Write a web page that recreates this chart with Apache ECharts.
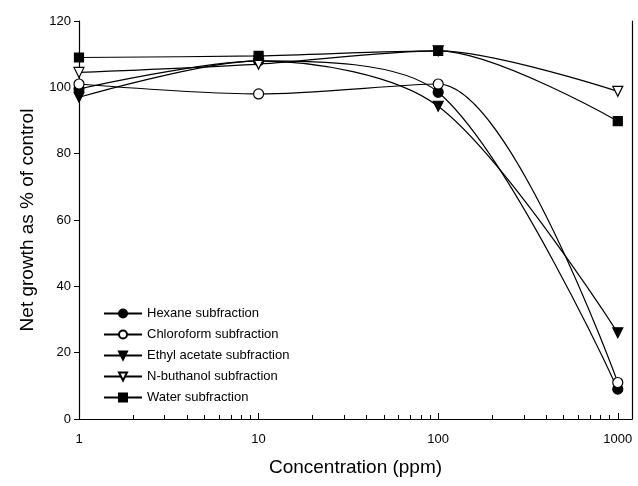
<!DOCTYPE html>
<html>
<head>
<meta charset="utf-8">
<script src="https://cdn.jsdelivr.net/npm/echarts@6/dist/echarts.min.js"></script>
<style>
  html, body { margin: 0; padding: 0; background: #fff; }
  #chart { width: 638px; height: 486px; }
</style>
</head>
<body>
<div id="chart"></div>
<script>
// concentrations (ppm)
var conc = [1, 10, 100, 1000];
var hexane = [99.5, 108, 98.5, 9];
var chloroform = [101, 98, 101, 11];
var ethylAcetate = [97, 108, 94.3, 26];
var nButhanol = [104.5, 107, 111, 98.8];
var water = [109, 109.5, 111, 89.8];

var majorTicks = [1, 10, 100, 1000];
var minorTicks = [2, 3, 4, 5, 6, 7, 8, 9, 20, 30, 40, 50, 60, 70, 80, 90, 200, 300, 400, 500, 600, 700, 800, 900];

var font = 'Liberation Sans, Arial, sans-serif';

function pairs(vals) {
	return conc.map(function (c, i) { return [c, vals[i]]; });
}

function makeSeries(name, vals, symbol, filled, rotate) {
	return {
		name: name,
		type: 'line',
		data: pairs(vals),
		smooth: 0.3,
		symbol: symbol,
		symbolSize: symbol === 'rect' ? 9 : 10,
		symbolRotate: rotate || 0,
		lineStyle: { color: '#000', width: 1.2 },
		itemStyle: {
			color: filled ? '#000' : '#fff',
			borderColor: '#000',
			borderWidth: 1.2
		}
	};
}

var myChart = echarts.init(document.getElementById('chart'));

myChart.setOption({
	animation: false,
	backgroundColor: '#fff',
	grid: { left: 79, right: 6, top: 21, bottom: 67, show: false },
	legend: {
		orient: 'vertical',
		left: 98,
		top: 302,
		itemWidth: 38,
		itemHeight: 10,
		itemGap: 8,
		textStyle: { fontFamily: font, fontSize: 13, color: '#000' },
		data: ['Hexane subfraction', 'Chloroform subfraction', 'Ethyl acetate subfraction', 'N-buthanol subfraction', 'Water subfraction']
	},
	xAxis: [{
		type: 'log',
		logBase: 10,
		min: 1,
		max: 1200,
		name: 'Concentration (ppm)',
		nameLocation: 'middle',
		nameGap: 39,
		nameTextStyle: { fontFamily: font, fontSize: 19, color: '#000' },
		axisLine: { lineStyle: { color: '#000', width: 1.2 } },
		axisTick: { inside: true, length: 6, customValues: majorTicks, lineStyle: { color: '#000' } },
		axisLabel: {
			customValues: majorTicks,
			margin: 14,
			fontFamily: font,
			fontSize: 13,
			color: '#000',
			formatter: function (v) { return String(Math.round(v)); }
		},
		splitLine: { show: false }
	}, {
		type: 'log',
		logBase: 10,
		min: 1,
		max: 1200,
		position: 'bottom',
		axisLine: { show: false },
		axisTick: { inside: true, length: 4, customValues: minorTicks, lineStyle: { color: '#000' } },
		axisLabel: { show: false },
		splitLine: { show: false }
	}],
	yAxis: [{
		type: 'value',
		min: 0,
		max: 120,
		interval: 20,
		name: 'Net growth as % of control',
		nameLocation: 'middle',
		nameGap: 42,
		nameTextStyle: { fontFamily: font, fontSize: 19, color: '#000' },
		axisLine: { show: true, lineStyle: { color: '#000', width: 1.2 } },
		axisTick: { show: true, length: 5, lineStyle: { color: '#000' } },
		axisLabel: { margin: 8, fontFamily: font, fontSize: 13, color: '#000' },
		splitLine: { show: false }
	}, {
		type: 'value',
		min: 0,
		max: 120,
		interval: 20,
		position: 'right',
		axisLine: { show: true, lineStyle: { color: '#000', width: 1.2 } },
		axisTick: { show: false },
		axisLabel: { show: false },
		splitLine: { show: false }
	}],
	series: [
		makeSeries('Hexane subfraction', hexane, 'circle', true),
		makeSeries('Chloroform subfraction', chloroform, 'circle', false),
		makeSeries('Ethyl acetate subfraction', ethylAcetate, 'triangle', true, 180),
		makeSeries('N-buthanol subfraction', nButhanol, 'triangle', false, 180),
		makeSeries('Water subfraction', water, 'rect', true)
	]
});
</script>
</body>
</html>
